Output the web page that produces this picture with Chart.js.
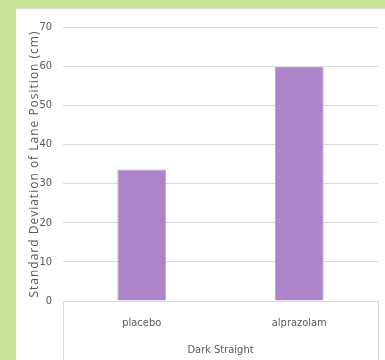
<!DOCTYPE html>
<html>
<head>
<meta charset="utf-8">
<script src="https://cdn.jsdelivr.net/npm/chart.js@4"></script>
<style>
  html, body { margin: 0; padding: 0; background: #c8e596; }
  #panel {
    position: absolute; left: 16px; top: 8px; width: 369px; height: 352px;
    background: #fff; border-top: 1px solid #d9d9d9; box-sizing: border-box;
  }
  #chart { display: block; }
</style>
</head>
<body>
<div id="panel"><canvas id="chart" width="369" height="351"></canvas></div>
<script>
// --- data ---
const categories = ['placebo', 'alprazolam'];
const groupLabel = 'Dark Straight';
const sdlpValues = [33.6, 59.8];
const yTicks = [0, 10, 20, 30, 40, 50, 60, 70];
const yTitle = 'Standard Deviation of Lane Position (cm)';

const textGray = '#595959';
const gridGray = '#d9d9d9';
const narrow = "'DejaVu Sans Condensed', 'Liberation Sans', sans-serif";

// box lines under the axis + spaced y title
const extras = {
  id: 'extras',
  afterDraw(chart) {
    const { ctx, chartArea } = chart;
    ctx.save();
    ctx.strokeStyle = gridGray;
    ctx.lineWidth = 1;
    ctx.beginPath();
    ctx.moveTo(Math.round(chartArea.left) + 0.5, chartArea.bottom);
    ctx.lineTo(Math.round(chartArea.left) + 0.5, chart.height);
    ctx.moveTo(Math.round(chartArea.right) + 0.5, chartArea.bottom);
    ctx.lineTo(Math.round(chartArea.right) + 0.5, chart.height);
    ctx.stroke();

    ctx.translate(19, (chartArea.top + chartArea.bottom) / 2);
    ctx.rotate(-Math.PI / 2);
    ctx.font = "12px 'Open Sans'";
    ctx.letterSpacing = '1px';
    ctx.fillStyle = textGray;
    ctx.textAlign = 'center';
    ctx.textBaseline = 'middle';
    ctx.fillText(yTitle, 0, 0);
    ctx.restore();
  }
};

new Chart(document.getElementById('chart'), {
  type: 'bar',
  data: {
    labels: categories,
    datasets: [{
      data: sdlpValues,
      backgroundColor: '#ac84c7',
      borderColor: '#bd9cd4',
      borderWidth: 1,
      barPercentage: 0.31,
      categoryPercentage: 1
    }]
  },
  options: {
    responsive: false,
    animation: false,
    layout: { padding: { top: 18, right: 7, left: 0, bottom: 0 } },
    plugins: { legend: { display: false }, tooltip: { enabled: false } },
    scales: {
      x: {
        grid: { display: false },
        border: { display: true, color: gridGray },
        ticks: { color: textGray, font: { family: narrow, size: 11 }, padding: 8 },
        title: {
          display: true, text: groupLabel, color: textGray,
          font: { family: narrow, size: 11 },
          padding: { top: 14, bottom: 3 }
        },
        afterFit: s => { s.height = 59; }
      },
      y: {
        min: 0, max: 70,
        afterBuildTicks: s => { s.ticks = yTicks.map(v => ({ value: v })); },
        grid: { color: gridGray, drawTicks: false },
        border: { display: false },
        ticks: { color: textGray, font: { family: narrow, size: 11 }, padding: 11 },
        title: { display: false },
        afterFit: s => { s.width = 47; }
      }
    }
  },
  plugins: [extras]
});
</script>
</body>
</html>
